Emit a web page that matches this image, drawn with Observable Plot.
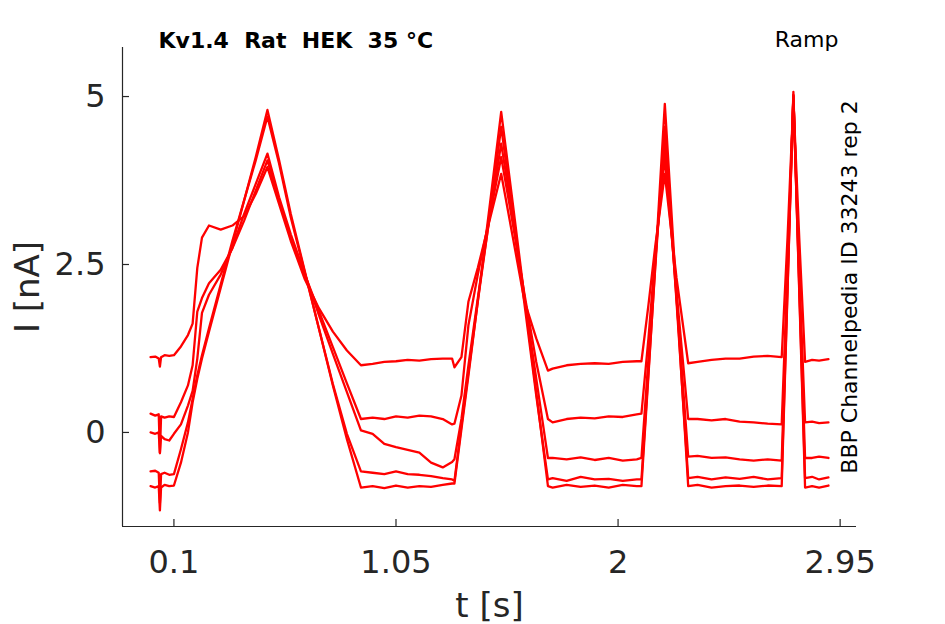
<!DOCTYPE html>
<html>
<head>
<meta charset="utf-8">
<script src="https://cdn.jsdelivr.net/npm/d3@7"></script>
<script src="https://cdn.jsdelivr.net/npm/@observablehq/plot@0.6"></script>
<style>
  html, body { margin: 0; padding: 0; background: #fff; }
</style>
</head>
<body>
<div id="chart"></div>
<script>
// ---- data ----
const titleText = "Kv1.4\u00a0\u00a0Rat\u00a0\u00a0HEK\u00a0\u00a035 °C";
const protocolText = "Ramp";
const sideText = "BBP Channelpedia ID 33243 rep 2";
const xLabel = "t [s]";
const yLabel = "I [nA]";
const xTicks = [0.1, 1.05, 2, 2.95];
const yTicks = [0, 2.5, 5];
const xDomain = [-0.12, 3.02];
const yDomain = [-1.4, 5.73];

// time grid (s)
const time = [
  0.00, 0.02, 0.035, 0.04, 0.045, 0.06, 0.08, 0.10,
  0.13, 0.16, 0.18, 0.20, 0.22, 0.25, 0.30, 0.35, 0.40, 0.45, 0.50,
  0.55, 0.60, 0.66, 0.72, 0.78, 0.84, 0.90,
  0.95, 1.00, 1.05, 1.10, 1.15, 1.20, 1.25, 1.29, 1.30,
  1.33, 1.36, 1.40, 1.45, 1.50,
  1.55, 1.60, 1.65, 1.70,
  1.72, 1.78, 1.84, 1.90, 1.96, 2.02, 2.08, 2.10,
  2.13, 2.16, 2.20, 2.25, 2.30,
  2.34, 2.40, 2.46, 2.52, 2.58, 2.64, 2.70,
  2.725, 2.75, 2.775, 2.80,
  2.83, 2.86, 2.90
];

// current traces (nA)
const trace1 = [
  1.12, 1.13, 1.10, 0.98, 1.12, 1.15, 1.14, 1.15,
  1.28, 1.45, 1.62, 2.45, 2.90, 3.08, 3.02, 3.08, 3.22, 3.55, 3.95,
  3.40, 2.85, 2.28, 1.85, 1.50, 1.22, 1.00,
  1.02, 1.05, 1.06, 1.08, 1.07, 1.09, 1.10, 1.10, 0.97,
  1.12, 1.95, 2.45, 3.15, 3.85,
  2.90, 1.95, 1.40, 0.92,
  0.95, 1.00, 1.02, 1.03, 1.02, 1.05, 1.06, 1.06,
  1.90, 2.80, 3.85, 2.30, 1.03,
  1.05, 1.08, 1.10, 1.10, 1.13, 1.14, 1.12,
  2.90, 4.95, 2.90, 1.05,
  1.08, 1.07, 1.09
];
const trace2 = [
  0.28, 0.25, 0.27, -0.30, 0.24, 0.22, 0.24, 0.23,
  0.45, 0.70, 1.00, 1.80, 2.00, 2.22, 2.42, 2.74, 3.15, 3.60, 4.05,
  3.45, 2.90, 2.35, 1.81, 1.27, 0.73, 0.20,
  0.22, 0.20, 0.24, 0.22, 0.25, 0.24, 0.20, 0.12, 0.13,
  0.55, 1.60, 2.35, 3.20, 4.10,
  3.10, 2.05, 1.05, 0.20,
  0.15, 0.20, 0.22, 0.21, 0.24, 0.23, 0.27, 0.28,
  1.40, 2.70, 4.10, 2.10, 0.20,
  0.20, 0.18, 0.20, 0.16, 0.15, 0.13, 0.12,
  2.45, 5.00, 2.40, 0.15,
  0.16, 0.14, 0.15
];
const trace3 = [
  0.00, -0.02, 0.00, -0.31, -0.05, -0.10, -0.12, -0.02,
  0.12, 0.40, 0.62, 1.10, 1.78, 2.05, 2.35, 2.75, 3.25, 3.70, 4.15,
  3.50, 2.95, 2.36, 1.75, 1.17, 0.60, 0.03,
  -0.02, -0.17, -0.22, -0.26, -0.30, -0.45, -0.52, -0.44, -0.40,
  0.20, 1.00, 2.00, 3.20, 4.30,
  3.20, 2.00, 0.80, -0.38,
  -0.38, -0.40, -0.37, -0.41, -0.38, -0.42, -0.40, -0.38,
  1.10, 2.60, 4.35, 2.00, -0.36,
  -0.35, -0.38, -0.37, -0.40, -0.42, -0.40, -0.42,
  2.30, 5.02, 2.25, -0.38,
  -0.38, -0.36, -0.38
];
const trace4 = [
  -0.58, -0.57, -0.60, -1.05, -0.62, -0.60, -0.63, -0.62,
  -0.25, 0.15, 0.50, 0.85, 1.15, 1.55, 2.20, 2.85, 3.45, 4.05, 4.70,
  4.00, 3.20, 2.38, 1.55, 0.72, -0.02, -0.58,
  -0.60, -0.62, -0.58, -0.62, -0.63, -0.65, -0.68, -0.70, -0.72,
  0.10, 0.90, 1.95, 3.20, 4.55,
  3.25, 1.90, 0.55, -0.70,
  -0.68, -0.72, -0.66, -0.70, -0.69, -0.72, -0.70, -0.70,
  0.90, 2.50, 4.55, 1.95, -0.68,
  -0.66, -0.70, -0.67, -0.69, -0.66, -0.70, -0.68,
  2.15, 5.02, 2.15, -0.68,
  -0.66, -0.70, -0.67
];
const trace5 = [
  -0.80, -0.82, -0.80, -1.16, -0.82, -0.78, -0.80, -0.79,
  -0.45, 0.00, 0.45, 0.80, 1.10, 1.50, 2.15, 2.80, 3.45, 4.10, 4.80,
  4.05, 3.25, 2.40, 1.55, 0.70, -0.10, -0.82,
  -0.80, -0.83, -0.79, -0.82, -0.80, -0.81, -0.78, -0.76, -0.76,
  0.05, 0.85, 1.95, 3.35, 4.77,
  3.40, 2.00, 0.60, -0.80,
  -0.82, -0.78, -0.81, -0.79, -0.82, -0.78, -0.80, -0.80,
  0.85, 2.55, 4.89, 2.05, -0.80,
  -0.78, -0.82, -0.80, -0.79, -0.81, -0.79, -0.80,
  2.10, 5.07, 2.10, -0.82,
  -0.80, -0.82, -0.79
];
const traces = [trace1, trace2, trace3, trace4, trace5];

// ---- table built from the arrays ----
const rows = traces.flatMap((tr, k) => tr.map((v, i) => ({t: time[i], I: v, sweep: k})));

const W = 945, H = 624;
const mL = 122, mR = 89, mT = 47, mB = 98;
const frameW = W - mL - mR, frameH = H - mT - mB;
const axisColor = "#262626";
const font = "DejaVu Sans, Liberation Sans, sans-serif";
const fmt = d => `${d}`;

const chart = Plot.plot({
  width: W, height: H,
  marginLeft: mL, marginRight: mR, marginTop: mT, marginBottom: mB,
  style: {fontFamily: font, background: "#fff", color: axisColor, overflow: "visible"},
  x: {domain: xDomain},
  y: {domain: yDomain},
  marks: [
    Plot.line(rows, {x: "t", y: "I", z: "sweep", stroke: "#ff0000", strokeWidth: 2.3, strokeLinejoin: "round"}),
    // axis lines (box off: left & bottom only)
    Plot.ruleX([xDomain[0]], {stroke: axisColor, strokeWidth: 1.2}),
    Plot.ruleY([yDomain[0]], {stroke: axisColor, strokeWidth: 1.2}),
    // inward ticks
    Plot.tickX(xTicks, {x: d => d, stroke: axisColor, strokeWidth: 1.2, insetTop: frameH - 7}),
    Plot.tickY(yTicks, {y: d => d, stroke: axisColor, strokeWidth: 1.2, insetRight: frameW - 7}),
    // tick labels
    Plot.axisX(xTicks, {tickSize: 0, tickPadding: 24, fontSize: 32, label: null, fill: axisColor, tickFormat: fmt}),
    Plot.axisY(yTicks, {tickSize: 0, tickPadding: 17, fontSize: 32, label: null, fill: axisColor, tickFormat: fmt}),
    // axis labels
    Plot.text([xLabel], {text: d => d, frameAnchor: "bottom", textAnchor: "middle", lineAnchor: "bottom", dy: 90, fontSize: 34, fill: axisColor}),
    Plot.text([yLabel], {text: d => d, frameAnchor: "left", textAnchor: "middle", rotate: -90, lineAnchor: "top", dx: -108, fontSize: 34, fill: axisColor}),
    // title & protocol
    Plot.text([titleText], {text: d => d, frameAnchor: "top-left", textAnchor: "start", lineAnchor: "bottom", dx: 36, dy: 0, fontSize: 22, fontWeight: "bold", fill: "#000"}),
    Plot.text([protocolText], {text: d => d, frameAnchor: "top-right", textAnchor: "end", lineAnchor: "bottom", dx: -18, dy: -1, fontSize: 22, fill: "#000"}),
    // side text
    Plot.text([sideText], {text: d => d, frameAnchor: "right", textAnchor: "middle", rotate: -90, lineAnchor: "middle", dx: -7, fontSize: 22, fill: "#000"})
  ]
});
document.getElementById("chart").appendChild(chart);
</script>
</body>
</html>
